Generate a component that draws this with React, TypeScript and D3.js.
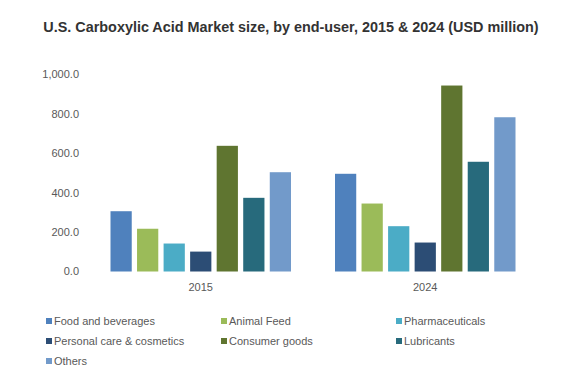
import React, { useEffect, useRef } from "react";
import * as d3 from "d3";

const years = ["2015", "2024"];
const segments = [
  "Food and beverages",
  "Animal Feed",
  "Pharmaceuticals",
  "Personal care & cosmetics",
  "Consumer goods",
  "Lubricants",
  "Others",
];
const values2015 = [306, 217, 142, 101, 638, 374, 504];
const values2024 = [496, 345, 230, 147, 944, 557, 783];
const yTicks = [0, 200, 400, 600, 800, 1000];
const colors = ["#4f81bd", "#9bbb59", "#4bacc6", "#2c4d75", "#5f7530", "#276a7c", "#729aca"];

const W = 566;
const H = 388;

const App = () => {
  const svgRef = useRef<SVGSVGElement>(null);

  useEffect(() => {
    document.body.style.margin = "0";
    const svg = d3.select(svgRef.current);
    svg.selectAll("*").remove();

    const font = "'Liberation Sans', Arial, sans-serif";
    const rows = [values2015, values2024];

    svg
      .append("text")
      .attr("x", 291)
      .attr("y", 32)
      .attr("text-anchor", "middle")
      .attr("font-family", font)
      .attr("font-size", 14.4)
      .attr("font-weight", "bold")
      .attr("fill", "#333333")
      .text("U.S. Carboxylic Acid Market size, by end-user, 2015 & 2024 (USD million)");

    const x0 = d3.scaleBand().domain(years).range([88.5, 537.5]);
    const x1 = d3
      .scaleBand()
      .domain(segments)
      .range([22, x0.bandwidth() - 22])
      .paddingInner(0.2);
    const y = d3.scaleLinear().domain([0, 1000]).range([271.5, 74.5]);

    // y tick labels, no axis line
    svg
      .selectAll(".ytick")
      .data(yTicks)
      .join("text")
      .attr("class", "ytick")
      .attr("x", 79)
      .attr("y", (d) => y(d))
      .attr("dy", "0.35em")
      .attr("text-anchor", "end")
      .attr("font-family", font)
      .attr("font-size", 11)
      .attr("fill", "#595959")
      .text((d) => d3.format(",.1f")(d));

    const groups = svg
      .selectAll(".year")
      .data(years)
      .join("g")
      .attr("class", "year")
      .attr("transform", (d) => `translate(${x0(d)},0)`);

    groups
      .selectAll("rect")
      .data((d, i) => rows[i].map((v, j) => ({ seg: segments[j], v, c: colors[j] })))
      .join("rect")
      .attr("x", (d) => x1(d.seg)!)
      .attr("width", x1.bandwidth())
      .attr("y", (d) => y(d.v))
      .attr("height", (d) => y(0) - y(d.v))
      .attr("fill", (d) => d.c);

    groups
      .append("text")
      .attr("x", x0.bandwidth() / 2)
      .attr("y", 287)
      .attr("dy", "0.35em")
      .attr("text-anchor", "middle")
      .attr("font-family", font)
      .attr("font-size", 11)
      .attr("fill", "#595959")
      .text((d) => d);

    // legend: 3 columns
    const legend = svg
      .selectAll(".legend")
      .data(segments)
      .join("g")
      .attr("class", "legend")
      .attr("transform", (d, i) => `translate(${46 + (i % 3) * 175},${321 + Math.floor(i / 3) * 20})`);

    legend
      .append("rect")
      .attr("x", 0)
      .attr("y", -3)
      .attr("width", 6)
      .attr("height", 6)
      .attr("fill", (d, i) => colors[i]);

    legend
      .append("text")
      .attr("x", 8)
      .attr("y", 0)
      .attr("dy", "0.35em")
      .attr("font-family", font)
      .attr("font-size", 11)
      .attr("fill", "#595959")
      .text((d) => d);
  }, []);

  return <svg ref={svgRef} width={W} height={H} style={{ display: "block", background: "#fff" }} />;
};

export default App;
